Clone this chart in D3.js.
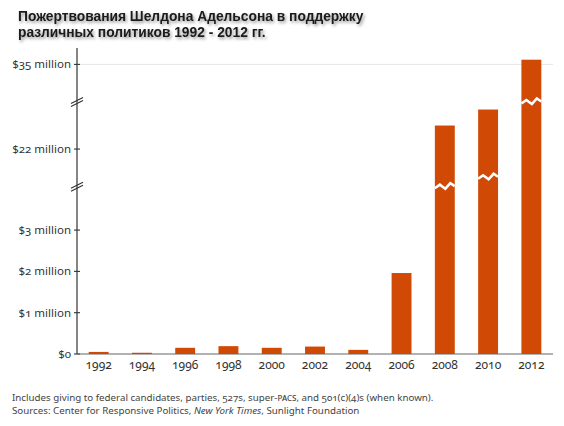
<!DOCTYPE html>
<html>
<head>
<meta charset="utf-8">
<script src="https://cdn.jsdelivr.net/npm/d3@7"></script>
<style>
  body { margin: 0; background: #fff; }
  svg { display: block; }
  .lbl { font-family: "Noto Sans", sans-serif; font-feature-settings: "onum"; fill: #333; }
</style>
</head>
<body>
<div id="chart"></div>
<script>
// values in millions of dollars
var years = [ "1992", "1994", "1996", "1998", "2000", "2002", "2004", "2006", "2008", "2010", "2012" ];
var amounts = [ 0.05, 0.03, 0.15, 0.19, 0.15, 0.18, 0.1, 1.96, 24.5, 26.2, 35.5 ];
// where the white "broken bar" zigzag sits on a bar (null = none)
var zigzags = [ null, null, null, null, null, null, null, null, 18, 19, 31 ];
var tickValues = [ 0, 1, 2, 3, 22, 35 ];
var tickLabels = [ "$0", "$1 million", "$2 million", "$3 million", "$22 million", "$35 million" ];
// piecewise y domain: low part, gap, middle part, gap, top part
var yDomain = [ 0, 4.05, 18, 27, 31, 36 ];
var titleLines = [ "Пожертвования Шелдона Адельсона в поддержку", "различных политиков 1992 - 2012 гг." ];

var width = 564, height = 426;
var x0 = 77, x1 = 553, yBase = 354, brk1 = 186.7, brk2 = 102, yTop = 55;
var barColor = "#d04a05";

var svg = d3.select( "#chart" ).append( "svg" )
  .attr( "width", width )
  .attr( "height", height );

var defs = svg.append( "defs" );
defs.append( "filter" ).attr( "id", "shadow" )
  .attr( "x", "-5%" ).attr( "y", "-30%" ).attr( "width", "110%" ).attr( "height", "170%" )
  .append( "feDropShadow" )
    .attr( "dx", 1.5 ).attr( "dy", 2 )
    .attr( "stdDeviation", 1.5 )
    .attr( "flood-color", "#000" )
    .attr( "flood-opacity", 0.4 );

// title
svg.append( "g" )
  .attr( "filter", "url(#shadow)" )
  .selectAll( "text" )
  .data( titleLines )
  .enter()
  .append( "text" )
    .attr( "x", 18 )
    .attr( "y", ( d, i ) => 21 + i * 16 )
    .style( "font-family", "'Liberation Sans', Arial, sans-serif" )
    .style( "font-size", "13.8px" )
    .style( "font-weight", "bold" )
    .style( "fill", "#1a1a1a" )
    .text( d => d );

var x = d3.scaleBand()
  .domain( years )
  .range( [ x0, x1 ] )
  .paddingInner( 0.54 )
  .paddingOuter( 0.27 );

var y = d3.scaleLinear()
  .domain( yDomain )
  .range( [ yBase, brk1, brk1, brk2, brk2, yTop ] );

// gridline at the top tick
svg.append( "line" )
  .attr( "x1", x0 + 3 ).attr( "x2", x1 )
  .attr( "y1", y( 35 ) ).attr( "y2", y( 35 ) )
  .style( "stroke", "#e6e6e6" )
  .style( "stroke-width", 1 );

// bars
svg.selectAll( ".bar" )
  .data( amounts )
  .enter()
  .append( "rect" )
    .attr( "class", "bar" )
    .attr( "x", ( d, i ) => x( years[ i ] ) )
    .attr( "y", d => y( d ) )
    .attr( "width", x.bandwidth() )
    .attr( "height", d => yBase - y( d ) )
    .style( "fill", barColor );

// zigzags on the broken bars
var zig = [ [ 0, 1.5 ], [ 5, -2 ], [ 10.5, 2 ], [ 15.5, -3.5 ], [ 20, -0.5 ] ];
svg.selectAll( ".zig" )
  .data( zigzags.map( ( z, i ) => ( { z: z, year: years[ i ] } ) ).filter( d => d.z !== null ) )
  .enter()
  .append( "polyline" )
    .attr( "class", "zig" )
    .attr( "points", d => {
      var bx = x( d.year ), by = y( d.z ), w = x.bandwidth();
      return zig.map( p => ( bx + p[ 0 ] / 20 * w ) + "," + ( by + p[ 1 ] ) ).join( " " );
    } )
    .style( "fill", "none" )
    .style( "stroke", "#fff" )
    .style( "stroke-width", 2.6 )
    .style( "stroke-linejoin", "miter" );

// y axis line
svg.append( "line" )
  .attr( "x1", x0 ).attr( "x2", x0 )
  .attr( "y1", 48 ).attr( "y2", yBase )
  .style( "stroke", "#333" )
  .style( "stroke-width", 1.2 );

// axis break marks
[ brk1, brk2 ].forEach( function( b ) {
  [ -1.5, 1.5 ].forEach( function( off ) {
    svg.append( "line" )
      .attr( "x1", x0 - 6 ).attr( "y1", b + off + 3 )
      .attr( "x2", x0 + 6 ).attr( "y2", b + off - 3 )
      .style( "stroke", "#333" )
      .style( "stroke-width", 1.1 );
  } );
} );

// y ticks and labels
var ticks = svg.selectAll( ".ytick" )
  .data( tickValues )
  .enter()
  .append( "g" )
    .attr( "class", "ytick" )
    .attr( "transform", d => "translate(0," + y( d ) + ")" );

ticks.append( "line" )
  .attr( "x1", x0 - 3 ).attr( "x2", x0 + 3 )
  .style( "stroke", "#333" )
  .style( "stroke-width", 1.1 );

ticks.append( "text" )
  .attr( "class", "lbl" )
  .attr( "x", x0 - 6 )
  .attr( "dy", "0.35em" )
  .attr( "text-anchor", "end" )
  .style( "font-size", "11.5px" )
  .text( ( d, i ) => tickLabels[ i ] );

// baseline
svg.append( "line" )
  .attr( "x1", x0 ).attr( "x2", x1 )
  .attr( "y1", yBase ).attr( "y2", yBase )
  .style( "stroke", "#666" )
  .style( "stroke-width", 1.2 );

// x labels
svg.selectAll( ".xlbl" )
  .data( years )
  .enter()
  .append( "text" )
    .attr( "class", "lbl" )
    .attr( "x", d => x( d ) + x.bandwidth() / 2 )
    .attr( "y", 369 )
    .attr( "text-anchor", "middle" )
    .style( "font-size", "12px" )
    .text( d => d );

// footer
var foot = svg.append( "g" )
  .attr( "class", "lbl" )
  .style( "font-size", "9.75px" );

var f1 = foot.append( "text" ).attr( "x", 12 ).attr( "y", 401 ).style( "fill", "#444" );
f1.append( "tspan" ).text( "Includes giving to federal candidates, parties, 527s, super-" );
f1.append( "tspan" ).style( "font-variant-caps", "all-small-caps" ).text( "PACs" );
f1.append( "tspan" ).text( ", and 501(c)(4)s (when known)." );

var f2 = foot.append( "text" ).attr( "x", 12 ).attr( "y", 414 ).style( "fill", "#444" );
f2.append( "tspan" ).text( "Sources: Center for Responsive Politics, " );
f2.append( "tspan" ).style( "font-style", "italic" ).text( "New York Times" );
f2.append( "tspan" ).text( ", Sunlight Foundation" );
</script>
</body>
</html>
